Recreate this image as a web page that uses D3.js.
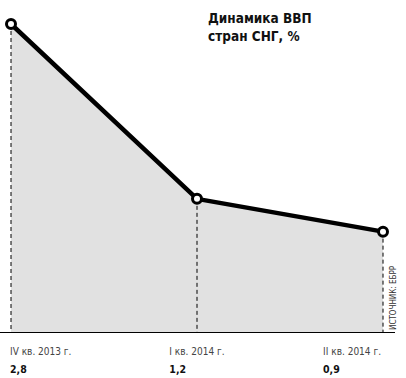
<!DOCTYPE html>
<html>
<head>
<meta charset="utf-8">
<script src="https://cdn.jsdelivr.net/npm/d3@7"></script>
<style>
  body { margin: 0; background: #fff; }
  svg { display: block; }
  text { font-family: "Liberation Sans Narrow", "DejaVu Sans Condensed", "Roboto", sans-serif; }
  .lbl { font-size: 10px; fill: #444; }
  .val { font-size: 10.5px; font-weight: bold; fill: #111; }
  .title { font-size: 13.5px; font-weight: bold; fill: #111; }
</style>
</head>
<body>
<svg id="chart" width="406" height="378"></svg>
<script>
// data
const quarters = ['IV кв. 2013 г.', 'I кв. 2014 г.', 'II кв. 2014 г.'];
const growth = [2.8, 1.2, 0.9];
const valueLabels = ['2,8', '1,2', '0,9'];
const titleLines = ['Динамика ВВП', 'стран СНГ, %'];
const source = 'ИСТОЧНИК: ЕБРР';

const svg = d3.select('#chart');

let x = d3.scalePoint()
  .domain(quarters)
  .range([11, 383]);

let y = d3.scaleLinear()
  .domain([0, 2.8])
  .range([330, 24]);

let base = 332;

let data = quarters.map((q, i) => ({ q: q, v: growth[i], t: valueLabels[i] }));

// grey area under the line
let area = d3.area()
  .x(d => x(d.q))
  .y0(base)
  .y1(d => y(d.v));

svg.append('path')
  .datum(data)
  .attr('d', area)
  .attr('fill', '#e1e1e1');

// dashed drop lines
svg.selectAll('.drop')
  .data(data)
  .enter()
  .append('line')
  .attr('class', 'drop')
  .attr('x1', d => x(d.q))
  .attr('x2', d => x(d.q))
  .attr('y1', d => y(d.v))
  .attr('y2', base)
  .attr('stroke', '#000')
  .attr('stroke-width', 1)
  .attr('stroke-dasharray', '4,3');

// baseline
svg.append('line')
  .attr('x1', 0)
  .attr('x2', 395)
  .attr('y1', base + 0.5)
  .attr('y2', base + 0.5)
  .attr('stroke', '#000')
  .attr('stroke-width', 1);

// main line
let line = d3.line()
  .x(d => x(d.q))
  .y(d => y(d.v));

svg.append('path')
  .datum(data)
  .attr('d', line)
  .attr('fill', 'none')
  .attr('stroke', '#000')
  .attr('stroke-width', 4.5)
  .attr('stroke-linejoin', 'round');

svg.selectAll('.dot')
  .data(data)
  .enter()
  .append('circle')
  .attr('class', 'dot')
  .attr('cx', d => x(d.q))
  .attr('cy', d => y(d.v))
  .attr('r', 4.5)
  .attr('fill', '#fff')
  .attr('stroke', '#000')
  .attr('stroke-width', 3);

// category + value labels
let anchors = ['start', 'middle', 'end'];
let offs = [-1, 0, -2];
data.forEach(function(d, i) {
  let lbl = svg.append('text')
    .attr('class', 'lbl')
    .attr('x', x(d.q) + offs[i])
    .attr('y', 355)
    .attr('text-anchor', anchors[i])
    .text(d.q);
  let bb = lbl.node().getBBox();
  svg.append('text')
    .attr('class', 'val')
    .attr('x', bb.x)
    .attr('y', 373)
    .text(d.t);
});

// title
svg.selectAll('.title')
  .data(titleLines)
  .enter()
  .append('text')
  .attr('class', 'title')
  .attr('x', 208)
  .attr('y', (d, i) => 23 + i * 18)
  .text(d => d);

// source, rotated
svg.append('text')
  .attr('transform', 'translate(396,330) rotate(-90)')
  .attr('font-size', '8px')
  .attr('fill', '#333')
  .text(source);
</script>
</body>
</html>
